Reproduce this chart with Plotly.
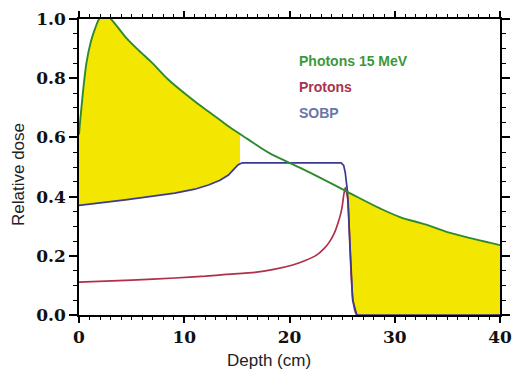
import numpy as np
import plotly.graph_objects as go

# ---- data ----
photon_depth = [0, 0.2, 0.7, 1.1, 1.5, 2.0, 2.5, 2.9, 3.5, 4.4, 5.5, 7.0, 8.5, 10.5,
                12.0, 13.4, 14.3, 16.0, 18.1, 20.0, 22.0, 25.5, 28.6, 30.5, 33.0, 35.0, 37.5, 40.0]
photon_dose = [0.61, 0.69, 0.85, 0.92, 0.965, 1.005, 1.015, 1.005, 0.98, 0.94, 0.90, 0.85, 0.795, 0.736,
               0.695, 0.659, 0.635, 0.595, 0.547, 0.514, 0.48, 0.416, 0.36, 0.331, 0.305, 0.28, 0.257, 0.236]

proton_depth = [0, 5.0, 9.1, 12.0, 14.0, 16.7, 18.5, 20.3, 21.5, 22.6, 23.3, 23.8, 24.3, 24.6, 24.85, 25.0,
                25.15, 25.3, 25.55, 25.75, 26.0, 26.4, 40.0]
proton_dose = [0.111, 0.118, 0.125, 0.131, 0.137, 0.144, 0.154, 0.169, 0.184, 0.203, 0.225, 0.247, 0.28, 0.31,
               0.34, 0.365, 0.405, 0.43, 0.39, 0.22, 0.06, 0.0, 0.0]

sobp_depth = [0, 2.0, 4.4, 6.5, 9.1, 11.0, 12.3, 13.4, 14.2, 14.7, 15.1, 15.5, 20.0, 24.9, 25.15, 25.3,
              25.5, 25.75, 26.0, 26.4, 40.0]
sobp_dose = [0.37, 0.378, 0.389, 0.399, 0.412, 0.425, 0.439, 0.455, 0.473, 0.492, 0.507, 0.514, 0.514, 0.514, 0.505, 0.48,
             0.42, 0.22, 0.05, 0.0, 0.0]

entrance_fill_end = 15.3   # yellow band between photon and SOBP curves ends here
exit_fill_start = 25.3     # yellow region beyond the SOBP fall-off

legend_labels = ["Photons 15 MeV", "Protons", "SOBP"]
x_ticks = [0, 10, 20, 30, 40]
y_ticks = [0.0, 0.2, 0.4, 0.6, 0.8, 1.0]

GREEN = "#2f8a2f"
RED = "#b0304a"
BLUE = "#3a3a92"
YELLOW = "#f3e600"

W, H = 515, 370
PL, PR, PT, PB = 79, 15, 19, 55

fig = go.Figure()

# entrance region fill (photon above SOBP)
xs1 = np.linspace(0, entrance_fill_end, 200)
low1 = np.interp(xs1, sobp_depth, sobp_dose)
up1 = np.interp(xs1, photon_depth, photon_dose)
fig.add_trace(go.Scatter(x=xs1, y=low1, mode="lines", line=dict(width=0), hoverinfo="skip", showlegend=False))
fig.add_trace(go.Scatter(x=xs1, y=up1, mode="lines", line=dict(width=0), fill="tonexty",
                         fillcolor=YELLOW, hoverinfo="skip", showlegend=False))

# exit region fill (photon above SOBP fall-off)
xs2 = np.linspace(exit_fill_start, 40, 400)
up2 = np.interp(xs2, photon_depth, photon_dose)
low2 = np.minimum(np.interp(xs2, sobp_depth, sobp_dose), up2)
fig.add_trace(go.Scatter(x=xs2, y=low2, mode="lines", line=dict(width=0), hoverinfo="skip", showlegend=False))
fig.add_trace(go.Scatter(x=xs2, y=up2, mode="lines", line=dict(width=0), fill="tonexty",
                         fillcolor=YELLOW, hoverinfo="skip", showlegend=False))

# curves
fig.add_trace(go.Scatter(x=proton_depth, y=proton_dose, mode="lines", line_shape="spline",
                         line=dict(color=RED, width=1.7, smoothing=0.5), name=legend_labels[1], showlegend=False))
fig.add_trace(go.Scatter(x=sobp_depth, y=sobp_dose, mode="lines",
                         line=dict(color=BLUE, width=1.7), name=legend_labels[2], showlegend=False))
fig.add_trace(go.Scatter(x=photon_depth, y=photon_dose, mode="lines", line_shape="spline",
                         line=dict(color=GREEN, width=1.9), name=legend_labels[0], showlegend=False))

legend_colors = ["#3a9a3a", "#a8344f", "#6a76a8"]
for i, (lab, col) in enumerate(zip(legend_labels, legend_colors)):
    fig.add_annotation(x=20.7, y=0.858 - i * 0.087, xref="x", yref="y", text=f"<b>{lab}</b>",
                       showarrow=False, xanchor="left", yanchor="middle",
                       font=dict(family="Liberation Sans", size=14, color=col))

plot_w = W - PL - PR
plot_h = H - PT - PB
fig.add_annotation(x=(269 - PL) / plot_w, y=1 - (360 - PT) / plot_h, xref="paper", yref="paper",
                   text="Depth (cm)", showarrow=False, xanchor="center", yanchor="middle",
                   font=dict(family="Liberation Sans", size=17, color="#222"))
fig.add_annotation(x=-(PL - 18) / plot_w, y=1 - (174 - PT) / plot_h, xref="paper", yref="paper",
                   text="Relative dose", showarrow=False, xanchor="center", yanchor="middle", textangle=-90,
                   font=dict(family="Liberation Sans", size=17, color="#222"))

axis_common = dict(showline=True, linecolor="black", linewidth=1.5, mirror="allticks",
                   ticks="outside", tickcolor="black", tickwidth=1.5, showgrid=False, zeroline=False,
                   tickfont=dict(family="DejaVu Serif", size=17, color="#111", weight="bold"))

fig.update_xaxes(range=[0, 40], tickvals=x_ticks, ticktext=[str(v) for v in x_ticks], ticklen=6,
                 minor=dict(dtick=1, ticks="outside", ticklen=3, tickcolor="black", tickwidth=1),
                 **axis_common)
fig.update_yaxes(range=[0, 1.0], tickvals=y_ticks, ticktext=[f"{v:.1f}" for v in y_ticks], ticklen=8,
                 minor=dict(dtick=0.05, ticks="outside", ticklen=4, tickcolor="black", tickwidth=1),
                 **axis_common)

fig.update_layout(width=W, height=H, margin=dict(l=PL, r=PR, t=PT, b=PB, autoexpand=False),
                  plot_bgcolor="white", paper_bgcolor="white")

# remove the browser's default 8px body margin so the figure sits at the window origin
fig.write_html("out.html", config={"displayModeBar": False},
               post_script="document.body.style.margin='0';document.body.style.overflow='hidden';")
